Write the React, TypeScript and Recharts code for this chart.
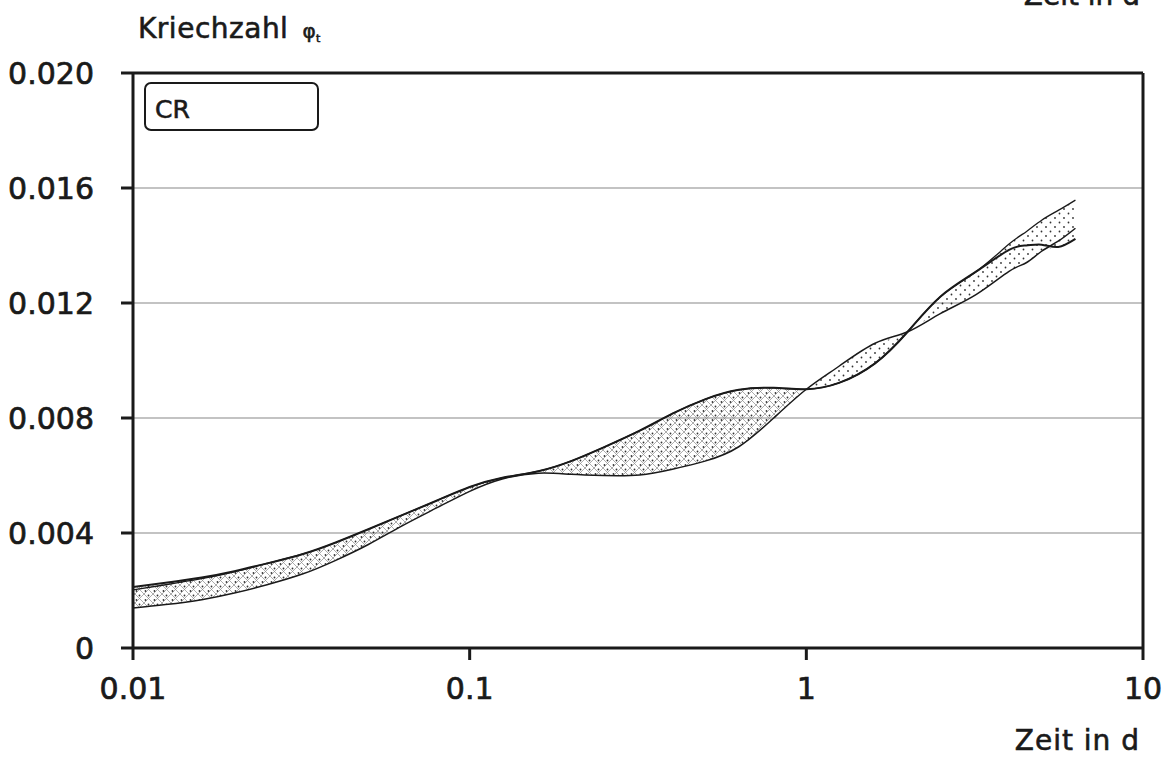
import React from 'react'
import {
  ComposedChart,
  Line,
  Area,
  XAxis,
  YAxis,
  CartesianGrid,
  ReferenceLine,
} from 'recharts'

// Zeit in d (log axis)
const zeit = [
  0.01, 0.0125, 0.016, 0.02, 0.025, 0.032, 0.04, 0.05, 0.063, 0.08, 0.1,
  0.125, 0.16, 0.2, 0.25, 0.32, 0.4, 0.5, 0.63, 0.8, 1, 1.25, 1.6, 2, 2.5,
  3.2, 4, 4.5, 5, 5.6, 6.3,
]

// Kriechzahl curves
const kurve1 = [
  0.00212, 0.00227, 0.00245, 0.00267, 0.00294, 0.00327, 0.00367, 0.00413,
  0.00462, 0.00513, 0.0056, 0.00592, 0.00615, 0.0065, 0.00698, 0.00756,
  0.00815, 0.00865, 0.00898, 0.00905, 0.009, 0.00922, 0.0099, 0.011, 0.01222,
  0.0131, 0.01385, 0.014, 0.01403, 0.01395, 0.01423,
]
const kurve2 = [
  0.00139, 0.00151, 0.00168, 0.00191, 0.0022, 0.00258, 0.00305, 0.0036,
  0.00425, 0.00488, 0.00545, 0.00588, 0.00608, 0.00604, 0.006, 0.00602,
  0.00622, 0.0065, 0.007, 0.008, 0.009, 0.0098, 0.0106, 0.011, 0.01163,
  0.0123, 0.0131, 0.0134, 0.0138, 0.01415, 0.0146,
]
const kurve3 = [
  0.00202, 0.0022, 0.00241, 0.00265, 0.00294, 0.00327, 0.00367, 0.00413,
  0.00462, 0.00513, 0.0056, 0.00592, 0.00615, 0.0065, 0.00698, 0.00756,
  0.00815, 0.00865, 0.00898, 0.00905, 0.009, 0.00922, 0.0099, 0.011, 0.01222,
  0.0131, 0.01405, 0.01448, 0.01488, 0.01522, 0.01558,
]

const xTicks = [0.01, 0.1, 1, 10]
const yTicks = [0, 0.004, 0.008, 0.012, 0.016, 0.02]

const data = zeit.map((t, i) => {
  const vals = [kurve1[i], kurve2[i], kurve3[i]]
  const band: [number, number] = [Math.min(...vals), Math.max(...vals)]
  return {
    t,
    k1: kurve1[i],
    k2: kurve2[i],
    k3: kurve3[i],
    bandA: t <= 1 ? band : null,
    bandB: t >= 1 ? band : null,
  }
})

const font = '"DejaVu Sans", sans-serif'
const ink = '#1a1a1a'
const tickStyle = { fill: ink, stroke: ink, strokeWidth: 0.7, fontSize: 30, fontFamily: font }

const fmtX = (v: number) => String(v)
const fmtY = (v: number) => (v === 0 ? '0' : v.toFixed(3))

export default function App() {
  return (
    <div style={{ position: 'absolute', left: 0, top: 0, width: 1168, height: 771, background: '#fff' }}>
      <ComposedChart
        width={1168}
        height={771}
        data={data}
        margin={{ top: 73, right: 25, bottom: 63, left: 73 }}
      >
        <defs>
          <pattern id="punkte" width="9" height="9" patternUnits="userSpaceOnUse">
            <circle cx="2" cy="2" r="0.9" fill="#333" />
            <circle cx="6.5" cy="6.5" r="0.9" fill="#333" />
          </pattern>
          <pattern id="kreuz" width="9" height="9" patternUnits="userSpaceOnUse">
            <path d="M0,0 L9,9 M9,0 L0,9" stroke="#8a8a8a" strokeWidth="0.7" />
            <circle cx="4.5" cy="1.5" r="0.9" fill="#333" />
            <circle cx="1.5" cy="6" r="0.9" fill="#333" />
          </pattern>
        </defs>
        <CartesianGrid vertical={false} stroke="#888" strokeWidth={1.2} />
        <XAxis
          dataKey="t"
          type="number"
          scale="log"
          domain={[0.01, 10]}
          ticks={xTicks}
          tickFormatter={fmtX}
          allowDataOverflow
          height={60}
          tickSize={12}
          tickMargin={18}
          axisLine={{ stroke: ink, strokeWidth: 3 }}
          tickLine={{ stroke: ink, strokeWidth: 3 }}
          tick={tickStyle}
        />
        <YAxis
          type="number"
          domain={[0, 0.02]}
          ticks={yTicks}
          tickFormatter={fmtY}
          width={60}
          tickSize={12}
          tickMargin={27}
          axisLine={{ stroke: ink, strokeWidth: 3 }}
          tickLine={{ stroke: ink, strokeWidth: 3 }}
          tick={tickStyle}
        />
        <ReferenceLine y={0.02} stroke={ink} strokeWidth={3} />
        <ReferenceLine x={10} stroke={ink} strokeWidth={3} />
        <Area
          dataKey="bandA"
          type="natural"
          stroke="none"
          fill="url(#kreuz)"
          fillOpacity={1}
          isAnimationActive={false}
          connectNulls={false}
        />
        <Area
          dataKey="bandB"
          type="natural"
          stroke="none"
          fill="url(#punkte)"
          fillOpacity={1}
          isAnimationActive={false}
          connectNulls={false}
        />
        <Line dataKey="k3" type="natural" stroke={ink} strokeWidth={1.3} dot={false} isAnimationActive={false} />
        <Line dataKey="k2" type="natural" stroke={ink} strokeWidth={1.5} dot={false} isAnimationActive={false} />
        <Line dataKey="k1" type="natural" stroke={ink} strokeWidth={2} dot={false} isAnimationActive={false} />
      </ComposedChart>

      <svg
        width={1168}
        height={771}
        style={{ position: 'absolute', left: 0, top: 0, pointerEvents: 'none' }}
      >
        {/* label cut off by the scan edge at the very top */}
        <text x={1140} y={5} textAnchor="end" fontFamily={font} fontSize={28} fill={ink} stroke={ink} strokeWidth={0.6}>
          Zeit in d
        </text>
        <text x={138} y={38} fontFamily={font} fontSize={28} fill={ink} stroke={ink} strokeWidth={0.6} letterSpacing={0.5}>
          Kriechzahl
          <tspan dx={14} fontSize={20}>φ</tspan>
          <tspan fontSize={11} dy={4}>t</tspan>
        </text>
        <rect x={145} y={83} width={173} height={47} rx={6} ry={6} fill="#fff" stroke={ink} strokeWidth={2} />
        <text x={155} y={118} fontFamily={font} fontSize={25} fill={ink} stroke={ink} strokeWidth={0.6}>
          CR
        </text>
        <text x={1140} y={750} textAnchor="end" fontFamily={font} fontSize={28} fill={ink} stroke={ink} strokeWidth={0.6} letterSpacing={1}>
          Zeit in d
        </text>
      </svg>
    </div>
  )
}
